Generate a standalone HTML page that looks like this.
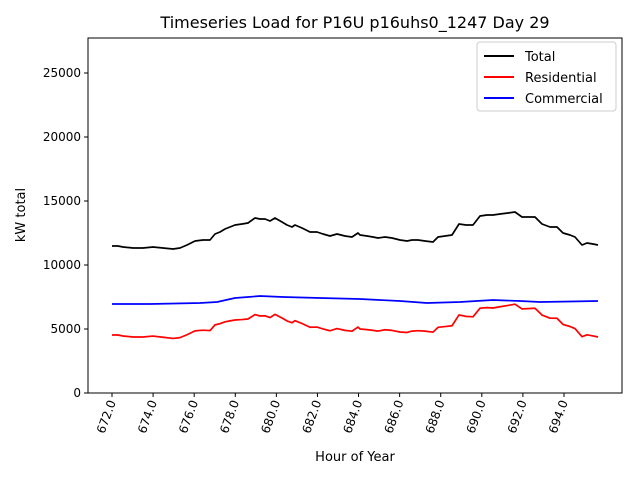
<!DOCTYPE html>
<html><head><meta charset="utf-8"><style>body{margin:0;background:#fff}svg{display:block;font-family:"DejaVu Sans","Liberation Sans",sans-serif}</style></head>
<body>
<svg id="s" width="640" height="480" xmlns="http://www.w3.org/2000/svg">
<rect width="640" height="480" fill="#fff"/>
<text x="355" y="28" font-size="16" text-anchor="middle">Timeseries Load for P16U p16uhs0_1247  Day 29</text>
<g id="lines"></g>
<rect x="88" y="38" width="534" height="355" fill="none" stroke="#000" stroke-width="1"/>
<g id="ticks" font-size="12"></g>
<text x="355" y="461" font-size="13" text-anchor="middle">Hour of Year</text>
<text transform="translate(25,215) rotate(-90)" font-size="13" text-anchor="middle">kW total</text>
<rect x="477" y="42" width="139" height="69" fill="#fff" stroke="#ccc" rx="3"/>
<line x1="484" y1="56" x2="514" y2="56" stroke="#000" stroke-width="2"/>
<text x="525" y="61" font-size="13">Total</text>
<line x1="484" y1="77" x2="514" y2="77" stroke="red" stroke-width="2"/>
<text x="525" y="82" font-size="13">Residential</text>
<line x1="484" y1="98" x2="514" y2="98" stroke="blue" stroke-width="2"/>
<text x="525" y="103" font-size="13">Commercial</text>
</svg>
<script>
var NS="http://www.w3.org/2000/svg";
function el(t,a,p,txt){var e=document.createElementNS(NS,t);for(var k in a)e.setAttribute(k,a[k]);if(txt!==undefined)e.textContent=txt;p.appendChild(e);return e;}
var tk=document.getElementById('ticks');
for(var v=0;v<=25000;v+=5000){var y=393-v*0.0128;el('line',{x1:84,y1:y,x2:88,y2:y,stroke:'#000'},tk);el('text',{x:81,y:y+4,'text-anchor':'end'},tk,String(v));}
for(var h=672;h<=694;h+=2){var x=112+(h-672)*20.545;el('line',{x1:x,y1:393,x2:x,y2:397,stroke:'#000'},tk);el('text',{transform:'translate('+(x+4)+',402) rotate(-70)','text-anchor':'end'},tk,h+'.0');}
var T=[[112,246],[118,246],[123,247],[133,248],[143,248],[153,247],[163,248],[173,249],[180,248],[187,245],[195,241],[203,240],[210,240],[215,234],[220,232],[225,229],[230,227],[235,225],[242,224],[248,223],[255,218],[260,219],[265,219],[270,221],[275,218],[282,222],[287,225],[292,227],[295,225],[302,228],[310,232],[317,232],[323,234],[330,236],[337,234],[345,236],[352,237],[358,233],[360,235],[367,236],[373,237],[378,238],[385,237],[392,238],[400,240],[407,241],[412,240],[418,240],[425,241],[433,242],[438,237],[445,236],[452,235],[459,224],[466,225],[473,225],[480,216],[487,215],[493,215],[500,214],[508,213],[515,212],[522,217],[528,217],[535,217],[542,224],[550,227],[557,227],[563,233],[570,235],[575,237],[582,245],[587,243],[593,244],[598,245]];
var B=[[112,304],[150,304],[200,303],[217,302],[235,298],[248,297],[260,296],[283,297],[320,298],[360,299],[400,301],[427,303],[460,302],[493,300],[520,301],[540,302],[570,301.5],[598,301]];
function bAt(x){for(var i=1;i<B.length;i++){if(x<=B[i][0]){var a=B[i-1],b=B[i],t=(x-a[0])/(b[0]-a[0]);return a[1]+t*(b[1]-a[1]);}}return B[B.length-1][1];}
var R=T.map(function(p){return [p[0],p[1]+393-bAt(p[0])];});
var g=document.getElementById('lines');
function pl(a,c){el('polyline',{points:a.map(function(p){return p.join(',');}).join(' '),fill:'none',stroke:c,'stroke-width':1.7,'stroke-linejoin':'round'},g);}
pl(T,'#000');pl(R,'red');pl(B,'blue');
</script>
</body></html>
